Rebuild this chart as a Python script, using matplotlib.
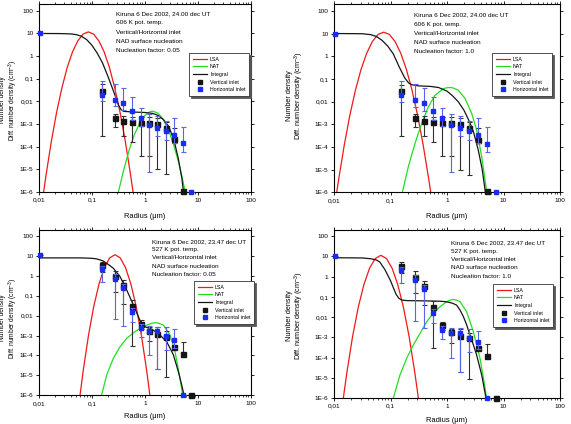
import numpy as np
import matplotlib
matplotlib.use("Agg")
import matplotlib.pyplot as plt
from matplotlib.ticker import FixedLocator, FixedFormatter, NullFormatter
from matplotlib.lines import Line2D

plt.rcParams['font.family'] = ['Liberation Sans', 'DejaVu Sans']
plt.rcParams['mathtext.fontset'] = 'custom'
plt.rcParams['mathtext.rm'] = 'Liberation Sans'
plt.rcParams['mathtext.it'] = 'Liberation Sans'

# ---------------- measured data (cumulative number density, cm^-3) -------------
# 6 Dec 2002, 24.00 dec UT, 606 K
vert_r_a = [0.155, 0.275, 0.39, 0.57, 0.83, 1.2, 1.72, 2.5, 3.6, 5.2]
vert_n_a = [0.028, 1.9e-3, 1.4e-3, 1.27e-3, 1.17e-3, 1.1e-3, 1.05e-3, 6.7e-4, 2.1e-4, 1.1e-6]
vert_lo_a = [3e-4, 7.5e-4, 3e-4, 1.6e-4, 4e-5, 4e-5, 1e-5, 6e-6, 1.5e-4, 1.1e-6]
vert_hi_a = [0.056, 2.9e-3, 2.2e-3, 2.1e-3, 2.0e-3, 2.0e-3, 1.9e-3, 1.2e-3, 6.5e-4, 1.1e-6]

horz_r_a = [0.0105, 0.155, 0.275, 0.39, 0.57, 0.83, 1.2, 1.72, 2.5, 3.6, 5.2, 7.4]
horz_n_a = [10.0, 0.020, 0.012, 8.5e-3, 3.8e-3, 1.8e-3, 9.5e-4, 6.5e-4, 5e-4, 3.3e-4, 1.4e-4, 1.0e-6]
horz_lo_a = [10.0, 0.010, 6e-3, 4e-3, 1.5e-3, 8e-4, 8e-6, 3e-4, 2e-4, 1.5e-4, 6e-5, 1.0e-6]
horz_hi_a = [10.0, 0.083, 0.058, 0.040, 0.016, 5e-3, 2.8e-3, 2.2e-3, 1.4e-3, 1.8e-3, 7.7e-4, 1.0e-6]

# 6 Dec 2002, 23.47 dec UT, 527 K
vert_r_b = [0.155, 0.275, 0.39, 0.57, 0.83, 1.2, 1.72, 2.5, 3.6, 5.2, 7.4]
vert_n_b = [3.3, 1.0, 0.35, 0.031, 3.9e-3, 1.75e-3, 1.15e-3, 8.8e-4, 2.8e-4, 1.15e-4, 1.05e-6]
vert_lo_b = [1.5, 0.15, 0.04, 2.9e-4, 2.2e-3, 5.5e-4, 2e-5, 8.5e-6, 2.8e-4, 1.15e-4, 1.05e-6]
vert_hi_b = [5.0, 1.8, 0.62, 0.059, 5.8e-3, 2.7e-3, 2.7e-3, 1.7e-3, 2.8e-4, 4.8e-4, 1.05e-6]

horz_r_b = [0.0105, 0.155, 0.275, 0.39, 0.57, 0.83, 1.2, 1.72, 2.5, 3.6, 5.2]
horz_n_b = [10.7, 2.2, 0.7, 0.25, 0.015, 2.4e-3, 1.6e-3, 1.65e-3, 9.5e-4, 5.8e-4, 1.05e-6]
horz_lo_b = [10.7, 0.48, 6.5e-3, 2.9e-3, 5e-3, 8.5e-4, 1e-4, 2e-5, 1.8e-4, 2.5e-4, 1.05e-6]
horz_hi_b = [10.7, 3.0, 1.2, 0.4, 0.025, 3.8e-3, 3e-3, 2.8e-3, 2.7e-3, 2.1e-3, 1.05e-6]

# ---------------- model curves (log10 radius, log10 value) ---
# panel A: 24.00 UT, nucleation factor 0.05
lsa_A_logr = [-1.918, -1.868, -1.768, -1.668, -1.568, -1.468, -1.368, -1.268, -1.168, -1.068,
              -0.968, -0.868, -0.768, -0.668, -0.568, -0.468, -0.368, -0.268, -0.218]
lsa_A_logn = [-6.08, -5.27, -3.78, -2.49, -1.41, -0.51, 0.18, 0.67, 0.97, 1.07,
              0.97, 0.67, 0.18, -0.51, -1.41, -2.49, -3.78, -5.27, -6.08]
nat_A_logr = [-0.50, -0.40, -0.30, -0.20, -0.10, 0.0, 0.10, 0.15, 0.25, 0.35, 0.45, 0.55, 0.65, 0.72, 0.77]
nat_A_logn = [-6.0, -5.03, -4.17, -3.48, -2.97, -2.62, -2.45, -2.43, -2.52, -2.81, -3.28, -3.95, -4.80, -5.52, -6.08]
int_A_logr = [-2.0, -1.6, -1.4, -1.3, -1.2, -1.1, -1.0, -0.9, -0.8, -0.7, -0.6, -0.5, -0.45, -0.4,
              -0.2, 0.0, 0.15, 0.25, 0.35, 0.45, 0.55, 0.63, 0.70, 0.73]
int_A_logn = [1.0, 0.995, 0.98, 0.95, 0.88, 0.73, 0.48, 0.13, -0.3, -0.88, -1.5, -2.15, -2.36, -2.44,
              -2.47, -2.49, -2.53, -2.62, -2.8, -3.1, -3.7, -4.5, -5.4, -6.0]

# panel B: 24.00 UT, nucleation factor 1.0
lsa_B_logr = [-1.97, -1.92, -1.82, -1.72, -1.62, -1.52, -1.42, -1.32, -1.22, -1.12,
              -1.02, -0.92, -0.82, -0.72, -0.62, -0.52, -0.42, -0.32, -0.27]
lsa_B_logn = [-6.31, -5.47, -3.94, -2.61, -1.49, -0.57, 0.14, 0.65, 0.96, 1.06,
              0.96, 0.65, 0.14, -0.57, -1.49, -2.61, -3.94, -5.47, -6.31]
nat_B_logr = [-0.79, -0.684, -0.566, -0.448, -0.33, -0.212, -0.065, 0.0, 0.06, 0.12, 0.2,
              0.319, 0.437, 0.525, 0.614, 0.673, 0.705]
nat_B_logn = [-6.0, -4.87, -3.84, -2.96, -2.23, -1.72, -1.43, -1.39, -1.38, -1.41, -1.50,
              -1.86, -2.52, -3.26, -4.43, -5.46, -6.0]
int_B_logr = [-2.0, -1.5, -1.35, -1.25, -1.15, -1.05, -0.95, -0.85, -0.75, -0.68, -0.62, -0.5,
              -0.3, -0.15, 0.0, 0.1, 0.2, 0.3, 0.4, 0.47, 0.55, 0.62, 0.68]
int_B_logn = [1.0, 0.99, 0.95, 0.87, 0.7, 0.45, 0.1, -0.45, -0.95, -1.18, -1.26, -1.31,
              -1.33, -1.38, -1.54, -1.75, -2.01, -2.38, -2.9, -3.35, -4.1, -4.95, -6.0]

# panel C: 23.47 UT, nucleation factor 0.05
lsa_C_logr = [-1.265, -1.215, -1.165, -1.065, -0.965, -0.865, -0.765, -0.665, -0.565,
              -0.465, -0.365, -0.265, -0.165, -0.065, 0.035, 0.085, 0.135]
lsa_C_logn = [-6.88, -5.79, -4.77, -2.99, -1.53, -0.40, 0.41, 0.90, 1.06,
              0.90, 0.41, -0.40, -1.53, -2.99, -4.77, -5.79, -6.88]
nat_C_logr = [-0.816, -0.721, -0.595, -0.469, -0.343, -0.186, -0.028, 0.129, 0.224, 0.35,
              0.476, 0.57, 0.652, 0.715]
nat_C_logn = [-5.98, -4.98, -4.14, -3.56, -3.14, -2.80, -2.55, -2.38, -2.35, -2.47,
              -2.97, -3.81, -4.98, -5.98]
int_C_logr = [-2.0, -1.2, -1.0, -0.91, -0.8, -0.721, -0.595, -0.469, -0.343, -0.217, -0.123,
              -0.06, 0.0, 0.098, 0.255, 0.413, 0.539, 0.633, 0.696, 0.74]
int_C_logn = [0.9, 0.9, 0.88, 0.85, 0.76, 0.63, 0.38, -0.04, -0.71, -1.46, -2.05,
              -2.43, -2.56, -2.64, -2.89, -3.31, -3.97, -4.81, -5.48, -5.98]

# panel D: 23.47 UT, nucleation factor 1.0
lsa_D_logr = [-1.871, -1.821, -1.771, -1.671, -1.571, -1.471, -1.371, -1.271, -1.171,
              -1.071, -0.971, -0.871, -0.771, -0.671, -0.571, -0.521, -0.471]
lsa_D_logn = [-6.80, -5.72, -4.72, -2.96, -1.52, -0.40, 0.41, 0.89, 1.05,
              0.89, 0.41, -0.40, -1.52, -2.96, -4.72, -5.72, -6.80]
nat_D_logr = [-0.95, -0.832, -0.714, -0.596, -0.478, -0.36, -0.242, -0.124, -0.006, 0.06,
              0.112, 0.17, 0.23, 0.348, 0.466, 0.584, 0.655, 0.702]
nat_D_logn = [-6.0, -4.86, -4.04, -3.38, -2.81, -2.23, -1.82, -1.49, -1.24, -1.16,
              -1.13, -1.16, -1.24, -1.74, -2.72, -4.04, -5.19, -6.0]
int_D_logr = [-2.0, -1.5, -1.35, -1.25, -1.19, -1.1, -1.0, -0.95, -0.9, -0.85, -0.8, -0.7,
              -0.4, -0.1, 0.0, 0.1, 0.17, 0.23, 0.29, 0.35, 0.407, 0.47, 0.525, 0.614, 0.69]
int_D_logn = [0.93, 0.92, 0.88, 0.82, 0.72, 0.35, -0.2, -0.55, -0.88, -1.08, -1.16, -1.19,
              -1.2, -1.22, -1.25, -1.32, -1.41, -1.65, -1.98, -2.4, -2.89, -3.4, -3.88, -4.86, -6.0]

x_ticks = [0.01, 0.1, 1, 10, 100]
x_labels = ['0,01', '0,1', '1', '10', '100']
y_ticks = [1e-6, 1e-5, 1e-4, 1e-3, 1e-2, 1e-1, 1, 10, 100]
y_labels = ['1E-6', '1E-5', '1E-4', '1E-3', '0,01', '0,1', '1', '10', '100']

info_A = ['Kiruna 6 Dec 2002, 24.00 dec UT', '606 K pot. temp.', 'Vertical/Horizontal inlet',
          'NAD surface nucleation', 'Nucleation factor: 0.05']
info_B = ['Kiruna 6 Dec 2002, 24.00 dec UT', '606 K pot. temp.', 'Vertical/Horizontal inlet',
          'NAD surface nucleation', 'Nucleation factor: 1.0']
info_C = ['Kiruna 6 Dec 2002, 23.47 dec UT', '527 K pot. temp.', 'Vertical/Horizontal inlet',
          'NAD surface nucleation', 'Nucleation factor: 0.05']
info_D = ['Kiruna 6 Dec 2002, 23.47 dec UT', '527 K pot. temp.', 'Vertical/Horizontal inlet',
          'NAD surface nucleation', 'Nucleation factor: 1.0']

# ---------------- styling / layout --------------------------------------------
W, H = 571, 424
RED = '#f01818'
GREEN = '#20e020'
BLACK = '#151515'
BLUE = '#1a2cf0'
BLUE_ERR = '#5a64e6'
GREY_ERR = '#303030'

fig = plt.figure(figsize=(W / 100, H / 100), dpi=100)


def px_axes(l, t, r, b):
    return fig.add_axes([l / W, 1 - b / H, (r - l) / W, (b - t) / H])


def pxtext(x, y, s, **kw):
    fig.text(x / W, 1 - y / H, s, **kw)


panels = [
    dict(box=(39, 4, 250.7, 192), lsa=(lsa_A_logr, lsa_A_logn), nat=(nat_A_logr, nat_A_logn),
         integ=(int_A_logr, int_A_logn), data='a', info=info_A, info_xy=(115.7, 13.3), dy=9.4,
         ylab_xy=(9.6, 100), ylab_fs=4.8, xlab_y=216, leg=(189, 53)),
    dict(box=(334, 4, 560, 192.3), lsa=(lsa_B_logr, lsa_B_logn), nat=(nat_B_logr, nat_B_logn),
         integ=(int_B_logr, int_B_logn), data='a', info=info_B, info_xy=(414.3, 15), dy=9.2,
         ylab_xy=(296, 96), ylab_fs=5.2, xlab_y=216, leg=(492, 53)),
    dict(box=(39, 230, 250.7, 395.3), lsa=(lsa_C_logr, lsa_C_logn), nat=(nat_C_logr, nat_C_logn),
         integ=(int_C_logr, int_C_logn), data='b', info=info_C, info_xy=(151.7, 241.3), dy=8.3,
         ylab_xy=(9.6, 318), ylab_fs=4.8, xlab_y=416, leg=(194, 281)),
    dict(box=(334, 230, 560, 398), lsa=(lsa_D_logr, lsa_D_logn), nat=(nat_D_logr, nat_D_logn),
         integ=(int_D_logr, int_D_logn), data='b', info=info_D, info_xy=(450.7, 243), dy=8.3,
         ylab_xy=(296, 316), ylab_fs=5.2, xlab_y=421, leg=(493, 284)),
]

datasets = {
    'a': (vert_r_a, vert_n_a, vert_lo_a, vert_hi_a, horz_r_a, horz_n_a, horz_lo_a, horz_hi_a),
    'b': (vert_r_b, vert_n_b, vert_lo_b, vert_hi_b, horz_r_b, horz_n_b, horz_lo_b, horz_hi_b),
}

for p in panels:
    l, t, r, b = p['box']
    ax = px_axes(l, t, r, b)
    ax.set_xscale('log')
    ax.set_yscale('log')
    ax.set_xlim(0.01, 100)
    ax.set_ylim(1e-6, 200)

    for (lr, ln), col in ((p['lsa'], RED), (p['nat'], GREEN), (p['integ'], BLACK)):
        ax.plot(10 ** np.asarray(lr), 10 ** np.asarray(ln), color=col, lw=0.9)

    vr, vn, vlo, vhi, hr, hn, hlo, hhi = datasets[p['data']]
    vn = np.asarray(vn); hn = np.asarray(hn)
    ax.errorbar(vr, vn, yerr=[vn - np.asarray(vlo), np.asarray(vhi) - vn], fmt='s', ms=3.6,
                mfc=BLACK, mec=BLACK, ecolor=GREY_ERR, elinewidth=0.8, capsize=1.8,
                capthick=0.8, clip_on=False, zorder=4)
    ax.errorbar(hr, hn, yerr=[hn - np.asarray(hlo), np.asarray(hhi) - hn], fmt='s', ms=2.9,
                mfc=BLUE, mec=BLUE, ecolor=BLUE_ERR, elinewidth=0.8, capsize=1.8,
                capthick=0.8, clip_on=False, zorder=5)

    ax.xaxis.set_major_locator(FixedLocator(x_ticks))
    ax.xaxis.set_major_formatter(FixedFormatter(x_labels))
    minors = [m * 10.0 ** e for e in range(-2, 2) for m in range(2, 10)]
    ax.xaxis.set_minor_locator(FixedLocator(minors))
    ax.xaxis.set_minor_formatter(NullFormatter())
    ax.yaxis.set_major_locator(FixedLocator(y_ticks))
    ax.yaxis.set_major_formatter(FixedFormatter(y_labels))
    ax.yaxis.set_minor_locator(FixedLocator([]))
    ax.tick_params(which='major', direction='out', length=2.5, width=0.6, labelsize=4.6, pad=1.5,
                   top=True, right=True)
    ax.tick_params(which='minor', direction='out', length=1.5, width=0.5, top=True)
    for s in ax.spines.values():
        s.set_linewidth(0.8)

    x0, y0 = p['info_xy']
    for i, line in enumerate(p['info']):
        pxtext(x0, y0 + i * p['dy'], line, fontsize=4.6, va='center', ha='left')

    pxtext((l + r) / 2, p['xlab_y'], 'Radius (μm)', fontsize=5.4, ha='center', va='center')
    yx, yy = p['ylab_xy']
    pxtext(yx, yy, 'Number density\nDiff. number density (cm$^{-3}$)', fontsize=p['ylab_fs'],
           rotation=90, ha='center', va='center', multialignment='center', linespacing=1.0)

    handles = [Line2D([], [], color=RED, lw=0.9), Line2D([], [], color=GREEN, lw=0.9),
               Line2D([], [], color=BLACK, lw=0.9),
               Line2D([], [], ls='none', marker='s', ms=2.4, color=BLACK),
               Line2D([], [], ls='none', marker='s', ms=2.4, color=BLUE)]
    labels = ['LSA', 'NAT', 'Integral', 'Vertical inlet', 'Horizontal inlet']
    lx, ly = p['leg']
    leg = ax.legend(handles, labels, loc='upper left', bbox_to_anchor=(lx / W, 1 - ly / H),
                    bbox_transform=fig.transFigure, fontsize=3.8, frameon=True, fancybox=False,
                    shadow={'ox': 1.2, 'oy': -1.2, 'color': '0.35', 'alpha': 1},
                    handlelength=2.8, handletextpad=0.5, labelspacing=0.5, borderpad=0.7,
                    borderaxespad=0)
    leg.get_frame().set_edgecolor('#333333')
    leg.get_frame().set_linewidth(0.6)

fig.savefig('out.png', dpi=100)
